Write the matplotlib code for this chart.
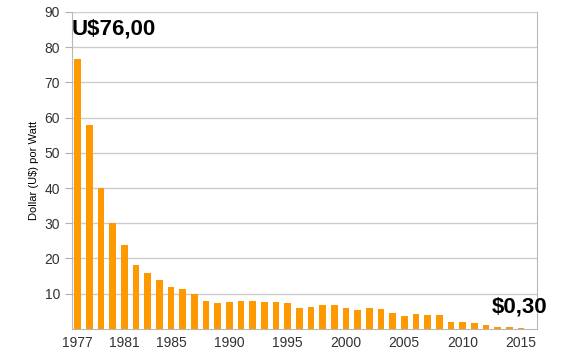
import numpy as np
import matplotlib
matplotlib.use('Agg')
import matplotlib.pyplot as plt

plt.rcParams['font.family'] = ['Liberation Sans', 'DejaVu Sans']

# price per watt, 1977-2015
years = np.arange(1977, 2016)
prices = [76.7, 58.0, 40.0, 30.0, 23.8, 18.2, 15.9, 13.8, 11.9, 11.2,
          9.9, 7.9, 7.3, 7.7, 7.9, 7.9, 7.7, 7.7, 7.3, 5.9,
          6.3, 6.7, 6.7, 5.8, 5.5, 5.8, 5.6, 4.6, 3.7, 4.2,
          3.9, 3.9, 1.9, 1.9, 1.6, 1.1, 0.65, 0.4, 0.3]
xticks = [1977, 1981, 1985, 1990, 1995, 2000, 2005, 2010, 2015]
yticks = [10, 20, 30, 40, 50, 60, 70, 80, 90]

fig = plt.figure(figsize=(5.61, 3.61), dpi=100)
ax = fig.add_axes([0.128, 0.089, 0.829, 0.878])

ax.bar(years, prices, width=0.57, color='#ff9900', zorder=3)

ax.set_xlim(1976.5, 2016.37)
ax.set_ylim(0, 90)
ax.set_xticks(xticks)
ax.set_yticks(yticks)
ax.tick_params(axis='both', labelsize=10, colors='#333333')
ax.tick_params(axis='y', length=5, color='#b0b0b0')
ax.tick_params(axis='x', length=0, pad=5)
ax.yaxis.grid(True, color='#cccccc', linewidth=1, zorder=0)
for s in ['left', 'right', 'bottom']:
    ax.spines[s].set_color('#b8b8b8')
ax.spines['top'].set_visible(False)

ax.set_ylabel('Dollar (U$) por Watt', fontsize=8, labelpad=4)

ax.text(0.0, 0.945, 'U$76,00', transform=ax.transAxes, fontsize=16,
        fontweight='bold', va='center', ha='left')
ax.text(0.902, 0.07, '$0,30', transform=ax.transAxes, fontsize=16,
        fontweight='bold', va='center', ha='left', clip_on=False)

plt.savefig('out.png', dpi=100)
